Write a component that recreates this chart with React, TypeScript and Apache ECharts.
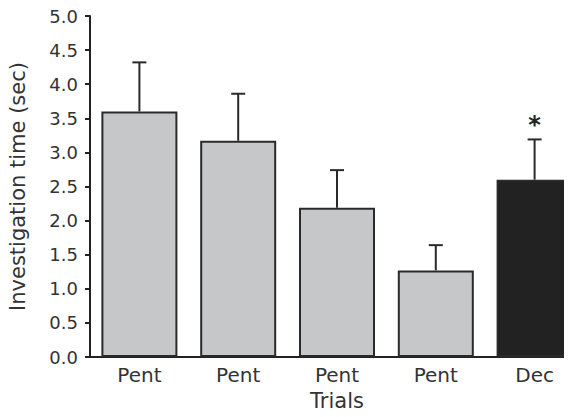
import React, { useEffect, useRef } from "react";
import * as echarts from "echarts";

const categories = ["Pent", "Pent", "Pent", "Pent", "Dec"];
const means = [3.6, 3.17, 2.19, 1.27, 2.6];
const errors = [0.72, 0.69, 0.55, 0.37, 0.59];
const markers = ["", "", "", "", "*"];
const barColors = ["#c6c7c9", "#c6c7c9", "#c6c7c9", "#c6c7c9", "#222222"];

export default function App() {
  const ref = useRef<HTMLDivElement>(null);
  useEffect(() => {
    if (!ref.current) return;
    const chart = echarts.init(ref.current, undefined, { renderer: "svg" });
    const font = "DejaVu Sans, Arial, Helvetica, sans-serif";
    chart.setOption({
      animation: false,
      grid: {
        left: 90,
        width: 494,
        top: 16,
        height: 341,
        containLabel: false,
        outerBoundsMode: "none",
      },
      xAxis: {
        type: "category",
        data: categories,
        name: "Trials",
        nameLocation: "middle",
        nameGap: 33,
        nameMoveOverlap: false,
        nameTextStyle: { fontSize: 21, color: "#333", fontFamily: font },
        axisLine: { lineStyle: { color: "#222", width: 2 } },
        axisTick: { show: false },
        axisLabel: { fontSize: 20, color: "#333", fontFamily: font, margin: 8 },
      },
      yAxis: {
        type: "value",
        min: 0,
        max: 5,
        interval: 0.5,
        name: "Investigation time (sec)",
        nameLocation: "middle",
        nameGap: 62,
        nameMoveOverlap: false,
        nameTextStyle: { fontSize: 21, color: "#333", fontFamily: font },
        axisLine: { show: true, lineStyle: { color: "#222", width: 2 } },
        axisTick: { show: true, length: 5, lineStyle: { color: "#222", width: 2 } },
        splitLine: { show: false },
        axisLabel: {
          fontSize: 18,
          color: "#333",
          fontFamily: font,
          margin: 12,
          formatter: (v: number) => v.toFixed(1),
        },
      },
      series: [
        {
          type: "bar",
          barWidth: 76,
          data: means.map((m, i) => ({
            value: m,
            itemStyle: { color: barColors[i], borderColor: "#2a2a2a", borderWidth: 2 },
          })),
          z: 2,
        },
        {
          type: "custom",
          z: 3,
          data: means.map((m, i) => [i, m, m + errors[i]]),
          renderItem: (params: any, api: any) => {
            const i = api.value(0);
            const base = api.coord([i, api.value(1)]);
            const top = api.coord([i, api.value(2)]);
            const children: any[] = [
              {
                type: "line",
                shape: { x1: base[0], y1: base[1], x2: top[0], y2: top[1] },
                style: { stroke: "#2a2a2a", lineWidth: 2 },
              },
              {
                type: "line",
                shape: { x1: top[0] - 7, y1: top[1], x2: top[0] + 7, y2: top[1] },
                style: { stroke: "#2a2a2a", lineWidth: 2 },
              },
            ];
            const mk = markers[params.dataIndex];
            if (mk) {
              children.push({
                type: "text",
                style: {
                  text: mk,
                  x: top[0],
                  y: top[1] - 2,
                  align: "center",
                  verticalAlign: "bottom",
                  fontSize: 24,
                  fontWeight: "bold",
                  fontFamily: font,
                  fill: "#222",
                },
              });
            }
            return { type: "group", children };
          },
        },
      ],
    });
    return () => chart.dispose();
  }, []);
  return (
    <div style={{ width: 572, height: 417, margin: -8, overflow: "hidden", position: "relative" }}>
      <div ref={ref} style={{ width: 572, height: 417, overflow: "hidden" }} />
    </div>
  );
}
